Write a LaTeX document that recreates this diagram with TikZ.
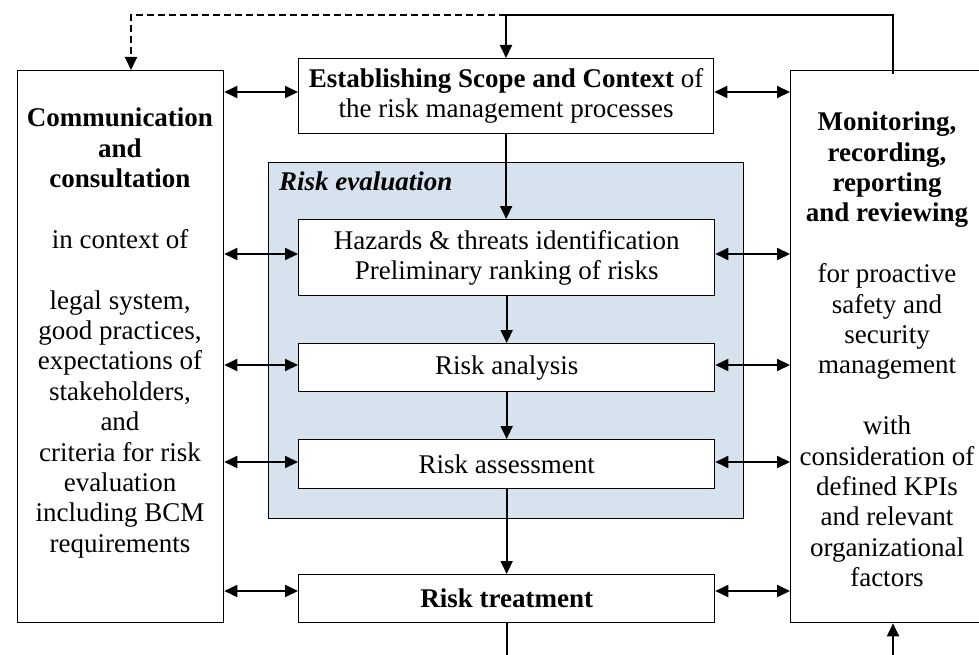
\documentclass[tikz,border=0pt]{standalone}
\usepackage{fontspec}
\setmainfont{Liberation Serif}
\usetikzlibrary{arrows.meta,calc}
\definecolor{evalblue}{RGB}{214,227,239}
\begin{document}
\begin{tikzpicture}[x=1pt,y=-1pt,
  box/.style={draw, line width=1.3pt, fill=white, inner sep=0pt, anchor=north west},
  txt/.style={font=\fontsize{27}{30.4}\selectfont, align=center},
  conn/.style={line width=1.9pt, -{Triangle[length=13pt,width=12pt]}},
  dbl/.style={line width=1.9pt, {Triangle[length=13pt,width=12pt]}-{Triangle[length=13pt,width=12pt]}},
  plainline/.style={line width=1.9pt},
  dashline/.style={line width=1.9pt, dash pattern=on 7pt off 4pt, -{Triangle[length=13pt,width=12pt]}}
]
\useasboundingbox (0,0) rectangle (979,655);
\clip (0,0) rectangle (979,655);

% side boxes
\node[box, minimum width=206pt, minimum height=552pt] (comm) at (17,70) {};
\node[box, minimum width=194pt, minimum height=552pt] (mon) at (790,70) {};

% top box
\node[box, txt, minimum width=415pt, minimum height=75pt] (est) at (298,58)
  {\textbf{Establishing Scope and Context} of\\the risk management processes};

% risk evaluation area
\node[draw, line width=1.3pt, fill=evalblue, anchor=north west, inner sep=0pt,
      minimum width=475pt, minimum height=356pt] (evalarea) at (268,162) {};
\node[anchor=base west, inner sep=0pt, font=\fontsize{27}{30.4}\selectfont\bfseries\itshape]
  (evallabel) at (279,190) {Risk evaluation};

\node[box, txt, minimum width=416pt, minimum height=76pt] (haz) at (298,219)
  {Hazards \& threats identification\\Preliminary ranking of risks};
\node[box, txt, minimum width=416pt, minimum height=48pt] (ana) at (298,343) {Risk analysis};
\node[box, txt, minimum width=416pt, minimum height=49pt] (ass) at (298,439) {Risk assessment};
\node[box, txt, minimum width=416pt, minimum height=48pt] (treat) at (298,574) {\textbf{Risk treatment}};

% side texts
\node[txt] (commtext) at (120,333)
  {\textbf{Communication}\\\textbf{and}\\\textbf{consultation}\\[30.4pt]
   in context of\\[30.4pt]
   legal system,\\good practices,\\expectations of\\stakeholders,\\and\\criteria for risk\\evaluation\\including BCM\\requirements};
\node[txt] (montext) at (887,349.5)
  {\textbf{Monitoring,}\\\textbf{recording,}\\\textbf{reporting}\\\textbf{and reviewing}\\[30.4pt]
   for proactive\\safety and\\security\\management\\[30.4pt]
   with\\consideration of\\defined KPIs\\and relevant\\organizational\\factors};

% arrow levels
\coordinate (r1) at (0,92);
\coordinate (r2) at (0,254);
\coordinate (r3) at (0,365);
\coordinate (r4) at (0,462);
\coordinate (r5) at (0,591);

\draw[dbl] (comm.east |- r1) -- (est.west |- r1);
\draw[dbl] (est.east |- r1) -- (mon.west |- r1);
\draw[dbl] (comm.east |- r2) -- (haz.west |- r2);
\draw[dbl] (haz.east |- r2) -- (mon.west |- r2);
\draw[dbl] (comm.east |- r3) -- (ana.west |- r3);
\draw[dbl] (ana.east |- r3) -- (mon.west |- r3);
\draw[dbl] (comm.east |- r4) -- (ass.west |- r4);
\draw[dbl] (ass.east |- r4) -- (mon.west |- r4);
\draw[dbl] (comm.east |- r5) -- (treat.west |- r5);
\draw[dbl] (treat.east |- r5) -- (mon.west |- r5);

% central flow
\draw[conn] (est.south) -- (est.south |- haz.north);
\draw[conn] (haz.south) -- (ana.north);
\draw[conn] (ana.south) -- (ass.north);
\draw[conn] (ass.south) -- (treat.north);
\coordinate (bottomout) at (506,665);
\draw[plainline] (treat.south) -- (treat.south |- bottomout);
\coordinate (monin) at (893,665);
\draw[conn] (monin) -- (monin |- mon.south);

% top feedback
\coordinate (topright) at (893,15);
\coordinate (topmid) at (506,15);
\coordinate (topleft) at (131,15);
\draw[plainline] ([yshift=-4pt]mon.north -| topright) -- (topright) -- (topmid);
\draw[conn] (topmid) -- (topmid |- est.north);
\draw[dashline] (topmid) -- (topleft) -- (topleft |- comm.north);
\end{tikzpicture}
\end{document}
